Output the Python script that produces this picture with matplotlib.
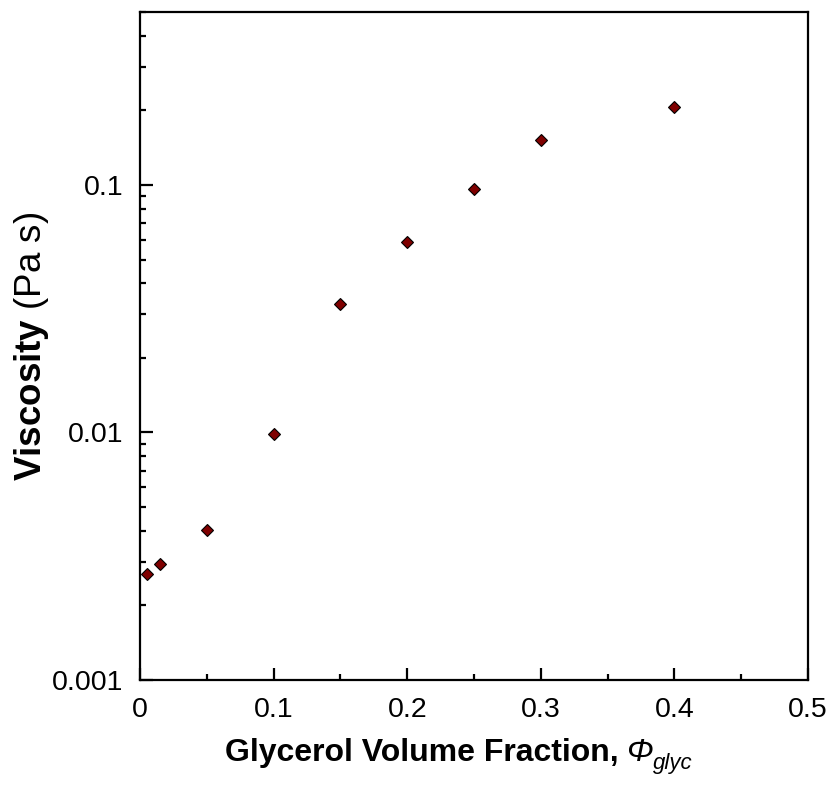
import matplotlib.pyplot as plt
from matplotlib.ticker import LogLocator, MultipleLocator, FixedLocator, FixedFormatter

plt.rcParams['font.family'] = ['Liberation Sans', 'DejaVu Sans']
plt.rcParams['mathtext.fontset'] = 'custom'
plt.rcParams['mathtext.rm'] = 'Liberation Sans'
plt.rcParams['mathtext.bf'] = 'Liberation Sans:bold'
plt.rcParams['mathtext.it'] = 'Liberation Sans:italic'

# glycerol volume fraction vs viscosity
phi_glyc = [0.005, 0.015, 0.05, 0.10, 0.15, 0.20, 0.25, 0.30, 0.40]
viscosity = [0.00268, 0.00294, 0.00404, 0.00984, 0.0330, 0.0587, 0.0961, 0.152, 0.207]

y_ticks = [0.001, 0.01, 0.1]
y_tick_labels = ['0.001', '0.01', '0.1']
x_ticks = [0, 0.1, 0.2, 0.3, 0.4, 0.5]
x_tick_labels = ['0', '0.1', '0.2', '0.3', '0.4', '0.5']

W, H = 831, 786
fig = plt.figure(figsize=(W/100, H/100), dpi=100)
ax = fig.add_axes([140/W, 106/H, 668/W, 668/H])

ax.plot(phi_glyc, viscosity, linestyle='none', marker='D', markersize=6.5,
        markerfacecolor='#7f0000', markeredgecolor='black', markeredgewidth=0.8)

ax.set_yscale('log')
ax.set_xlim(0, 0.5)
ax.set_ylim(0.001, 0.5)

ax.yaxis.set_major_locator(FixedLocator(y_ticks))
ax.yaxis.set_major_formatter(FixedFormatter(y_tick_labels))
ax.yaxis.set_minor_locator(LogLocator(base=10, subs=range(2, 10)))
ax.xaxis.set_major_locator(FixedLocator(x_ticks))
ax.xaxis.set_major_formatter(FixedFormatter(x_tick_labels))
ax.xaxis.set_minor_locator(MultipleLocator(0.05))
ax.yaxis.set_minor_formatter(plt.NullFormatter())

for s in ax.spines.values():
    s.set_linewidth(1.6)
ax.tick_params(which='both', direction='in', top=False, right=False, width=1.6, labelsize=20.5)
ax.tick_params(which='major', length=9, pad=12)
ax.tick_params(which='minor', length=4.5)

ax.set_ylabel(r'$\mathbf{Viscosity}$ (Pa s)', fontsize=26.5, labelpad=1)

# x label built in pieces so the Phi can be italic
base_y = (H - 761) / H
t1 = fig.text(225/W, base_y, 'Glycerol Volume Fraction,', fontsize=23,
              fontweight='bold', va='baseline')
renderer = fig.canvas.get_renderer()
bb = t1.get_window_extent(renderer)
t2 = fig.text((bb.x1 + 7)/W, base_y, 'Φ', fontsize=23, style='italic', va='baseline')
bb = t2.get_window_extent(renderer)
fig.text((bb.x1 + 1)/W, base_y - 8/H, 'glyc', fontsize=16, style='italic', va='baseline')

fig.savefig('out.png', dpi=100)
